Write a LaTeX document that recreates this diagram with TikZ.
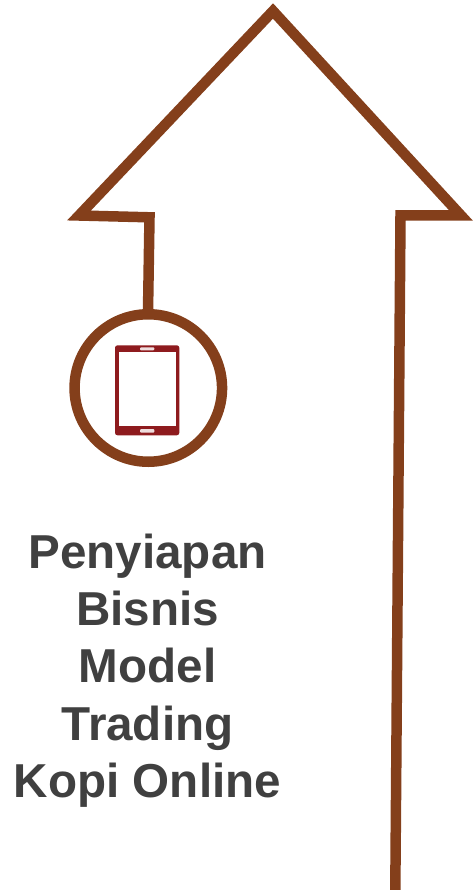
\documentclass[tikz,border=0pt]{standalone}
\usepackage{fontspec}
\setmainfont{Liberation Sans}
\definecolor{arrowbrown}{HTML}{843F1B}
\definecolor{tabletred}{HTML}{8E1B1E}
\definecolor{labelgrey}{HTML}{404040}
\tikzset{
  outline/.style={draw=arrowbrown,line width=10.5pt,miter limit=10},
  ringnode/.style={circle,draw=arrowbrown,fill=white,line width=10.5pt,minimum size=147.5pt,inner sep=0pt},
  caption/.style={text=labelgrey,align=center,inner sep=0pt,font=\fontsize{47.6pt}{57.4pt}\selectfont\bfseries}
}
\begin{document}
\begin{tikzpicture}[x=1pt,y=-1pt]
\useasboundingbox (0,0) rectangle (475,890);
\coordinate (tail) at (395.3,890);
\draw[outline] (148,312) -- (149.5,217.3) -- (79,215.5) -- (273,11) -- (461,215.5) -- (400.5,215.5) -- (tail);
\node[ringnode] (ring) at (148.3,388) {};
\fill[tabletred,rounded corners=2.5pt] (115,345.3) rectangle (179.3,435.3);
\fill[white] (119,352.3) rectangle (175.7,426);
\fill[white,opacity=.85,rounded corners=1pt] (140,347.3) rectangle (154.3,350.3);
\fill[white,opacity=.85,rounded corners=1pt] (140,429) rectangle (154.3,432.7);
\node[caption] (label) at (147.5,670.5) {Penyiapan\\Bisnis\\Model\\Trading\\Kopi Online};
\end{tikzpicture}
\end{document}
